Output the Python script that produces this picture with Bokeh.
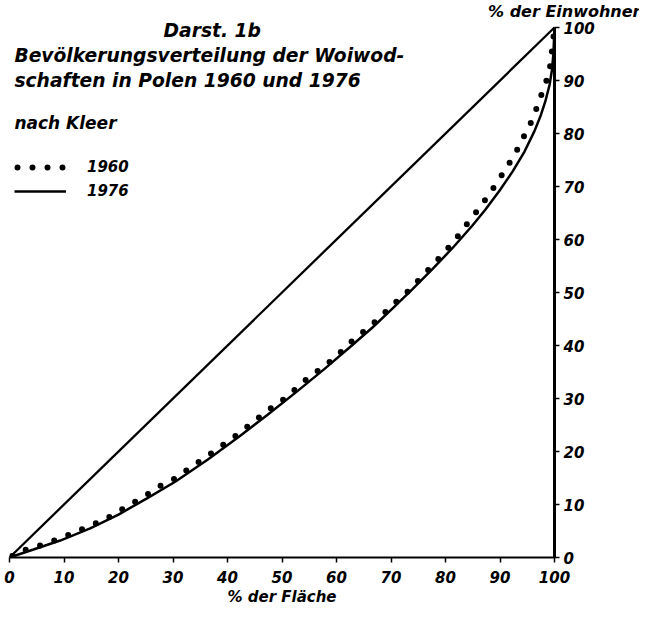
from bokeh.plotting import figure
from bokeh.models import Range1d, LinearAxis, FixedTicker, Label, Legend, LegendItem, Title
from bokeh.embed import file_html
from bokeh.resources import INLINE

# Lorenz curves: cumulative % of area (x) vs cumulative % of inhabitants (y)
area_1960 = [0, 2.4, 4.5, 6.6, 9.3, 11.9, 14.8, 17.6, 20.0, 22.5, 25.3, 27.8, 30.4,
             33.5, 36.4, 39.0, 42.1, 44.9, 47.3, 50.0, 52.6, 55.1, 57.7, 60.3, 62.6,
             65.4, 67.8, 70.1, 72.9, 75.5, 78.2, 80.4, 82.8, 84.4, 86.3, 88.1, 89.7,
             91.2, 92.7, 94.0, 95.1, 96.2, 97.1, 98.2, 99.1, 99.5, 100]
pop_1960 = [0, 1.3, 1.9, 2.6, 3.6, 4.7, 6.0, 7.2, 8.7, 10.2, 11.9, 13.6, 14.9,
            17.2, 19.2, 21.1, 23.4, 25.7, 27.7, 29.6, 31.9, 34.2, 36.0, 38.3, 40.6,
            43.0, 45.1, 47.5, 50.0, 52.8, 55.8, 58.3, 61.3, 63.6, 66.0, 68.7, 71.1,
            73.6, 76.0, 78.7, 80.8, 83.2, 86.0, 88.9, 91.9, 95.3, 100]

area_1976 = [0, 4.4, 9.3, 14.8, 20.0, 25.3, 30.4, 36.4, 42.1, 47.3, 52.6, 57.7,
             62.6, 66.6, 70.3, 73.9, 77.6, 81.3, 84.9, 87.3, 89.9, 92.3, 94.5,
             96.3, 97.4, 98.3, 99.1, 99.5, 99.8, 100]
pop_1976 = [0, 1.5, 3.2, 5.5, 8.1, 11.2, 14.3, 18.5, 22.8, 26.9, 31.2, 35.5,
            39.8, 43.4, 47.0, 50.6, 54.4, 58.4, 62.6, 65.6, 69.2, 72.8, 76.6,
            80.4, 83.2, 86.0, 89.2, 91.8, 95.0, 100]

equality = [0, 100]
ticks = [0, 10, 20, 30, 40, 50, 60, 70, 80, 90, 100]

FONT = "DejaVu Sans"
PX_PER_Y = 5.30
FRAME_H = 535

p = figure(frame_width=545, frame_height=FRAME_H,
           x_range=Range1d(0, 100), y_range=Range1d(0, FRAME_H / PX_PER_Y),
           x_axis_location=None, y_axis_location=None,
           output_backend="svg", toolbar_location=None,
           min_border_left=9, min_border_right=85,
           min_border_top=22, min_border_bottom=49)
p.outline_line_color = None
p.grid.grid_line_color = None
p.background_fill_color = "white"

p.add_layout(Title(text="% der Einwohner", align="right", offset=-86,
                   vertical_align="top", standoff=0,
                   text_font=FONT, text_font_style="bold italic",
                   text_font_size="16px", text_color="black"), "above")

xaxis = LinearAxis(ticker=FixedTicker(ticks=ticks), axis_label="% der Fläche")
xaxis.axis_line_width = 2
xaxis.major_tick_in = 0
xaxis.major_tick_out = 5
xaxis.major_tick_line_width = 1.5
xaxis.minor_tick_line_color = None
xaxis.major_label_standoff = 8
xaxis.major_label_text_font = FONT
xaxis.major_label_text_font_style = "bold italic"
xaxis.major_label_text_font_size = "15px"
xaxis.major_label_text_color = "black"
xaxis.axis_label_standoff = 2
xaxis.axis_label_text_font = FONT
xaxis.axis_label_text_font_style = "bold italic"
xaxis.axis_label_text_font_size = "15px"
xaxis.axis_label_text_color = "black"
p.add_layout(xaxis, "below")

yaxis = LinearAxis(ticker=FixedTicker(ticks=ticks), bounds=(0, 100))
yaxis.axis_line_width = 3
yaxis.major_tick_in = 0
yaxis.major_tick_out = 5
yaxis.major_tick_line_width = 1.5
yaxis.minor_tick_line_color = None
yaxis.major_label_standoff = 4
yaxis.major_label_text_font = FONT
yaxis.major_label_text_font_style = "bold italic"
yaxis.major_label_text_font_size = "15px"
yaxis.major_label_text_color = "black"
p.add_layout(yaxis, "right")

p.line(equality, equality, line_color="black", line_width=2.3)
r76 = p.line(area_1976, pop_1976, line_color="black", line_width=2.5)
r60 = p.line(area_1960, pop_1960, line_color="black", line_width=6,
             line_dash="0 15", line_dash_offset=-3, line_cap="round")

legend = Legend(items=[LegendItem(label="1960", renderers=[r60]),
                       LegendItem(label="1976", renderers=[r76])],
                location=(5, 356), border_line_color=None,
                background_fill_alpha=0, padding=0, margin=0, spacing=4,
                glyph_width=52, glyph_height=20, label_height=20,
                label_standoff=21, label_text_font=FONT,
                label_text_font_style="bold italic", label_text_font_size="15px",
                label_text_color="black")
p.add_layout(legend)

def add_text(txt, x, y, size, style="bold italic", align="left"):
    p.add_layout(Label(x=x, y=y, text=txt, text_font=FONT, text_font_style=style,
                       text_font_size=size, text_align=align,
                       text_baseline="middle", text_color="black"))

add_text("Darst. 1b", 37.2, 99.5, "18.7px", align="center")
add_text("Bevölkerungsverteilung der Woiwod-", 0.9, 94.7, "18.7px")
add_text("schaften in Polen 1960 und 1976", 0.9, 90.0, "18.7px")
add_text("nach Kleer", 0.9, 81.9, "17px")

open("out.html", "w").write(file_html(p, INLINE))
